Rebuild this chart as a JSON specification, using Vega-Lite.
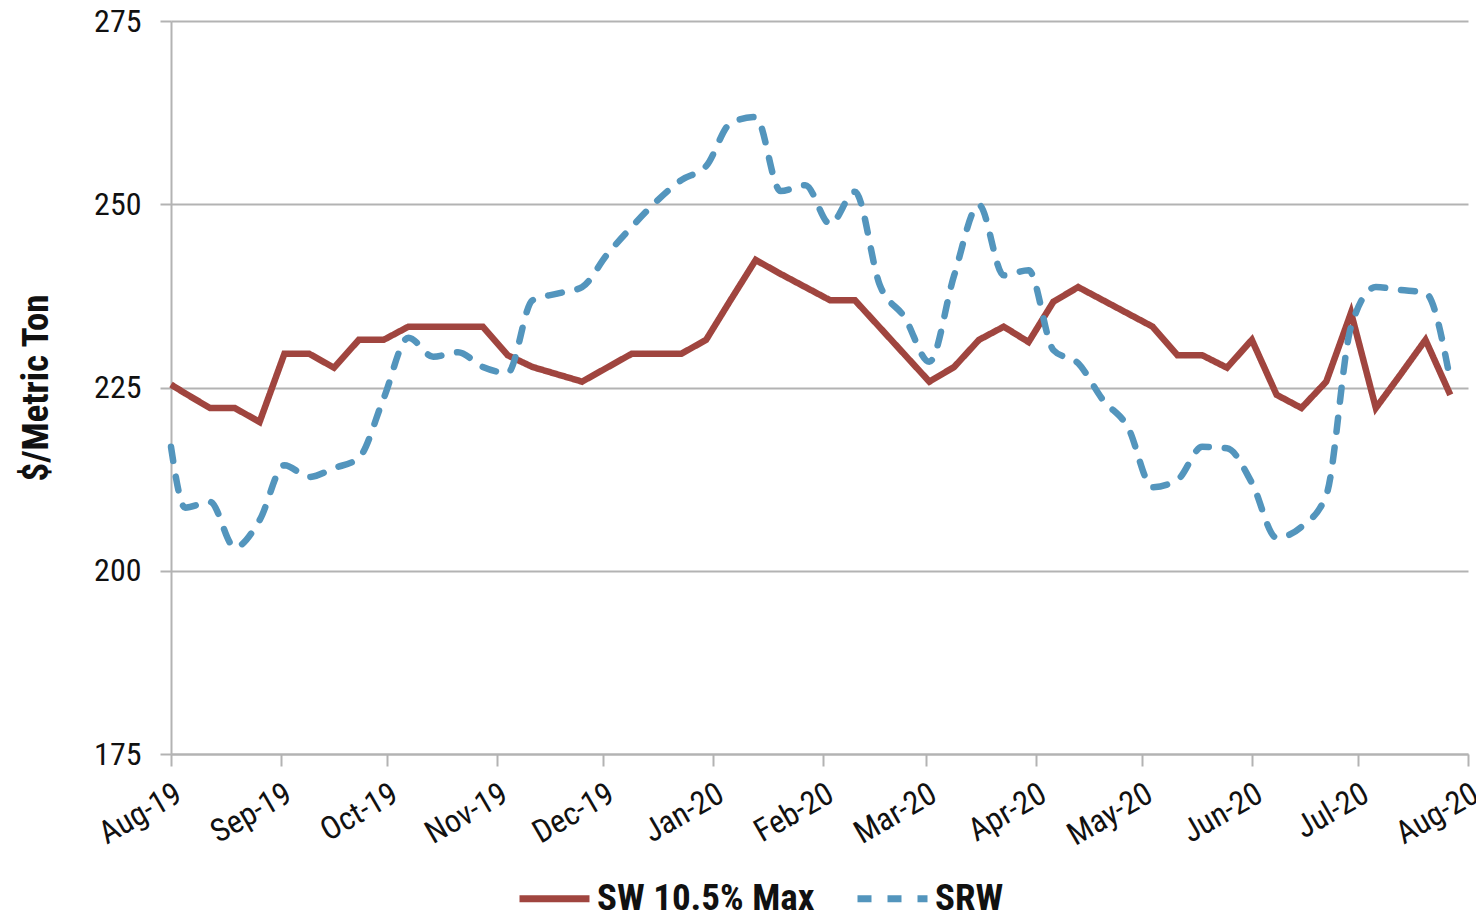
{
  "$schema": "https://vega.github.io/schema/vega-lite/v6.json",
  "width": 1297,
  "height": 733,
  "autosize": "none",
  "padding": {"left": 171, "top": 21, "right": 8, "bottom": 161},
  "background": "white",
  "config": {
    "view": {"stroke": null},
    "font": "Roboto Condensed, Liberation Sans Narrow, Roboto"
  },
  "datasets": {
    "prices": [
      {"date": "2019-08-01", "SW": 225.4, "SRW": 216.9},
      {"date": "2019-08-05", "SW": 224.2, "SRW": 208.6},
      {"date": "2019-08-12", "SW": 222.2, "SRW": 209.4},
      {"date": "2019-08-19", "SW": 222.2, "SRW": 203.2},
      {"date": "2019-08-26", "SW": 220.3, "SRW": 206.9},
      {"date": "2019-09-02", "SW": 229.6, "SRW": 214.4},
      {"date": "2019-09-09", "SW": 229.6, "SRW": 212.8},
      {"date": "2019-09-16", "SW": 227.7, "SRW": 214.0},
      {"date": "2019-09-23", "SW": 231.5, "SRW": 215.4},
      {"date": "2019-09-30", "SW": 231.5, "SRW": 223.5},
      {"date": "2019-10-07", "SW": 233.3, "SRW": 231.8},
      {"date": "2019-10-14", "SW": 233.3, "SRW": 229.2},
      {"date": "2019-10-21", "SW": 233.3, "SRW": 229.8},
      {"date": "2019-10-28", "SW": 233.3, "SRW": 227.8},
      {"date": "2019-11-04", "SW": 229.4, "SRW": 227.0},
      {"date": "2019-11-11", "SW": 227.8, "SRW": 236.9},
      {"date": "2019-11-18", "SW": 226.8, "SRW": 237.8},
      {"date": "2019-11-25", "SW": 225.8, "SRW": 238.7},
      {"date": "2019-12-02", "SW": 227.7, "SRW": 243.1},
      {"date": "2019-12-09", "SW": 229.6, "SRW": 246.9},
      {"date": "2019-12-16", "SW": 229.6, "SRW": 250.4},
      {"date": "2019-12-23", "SW": 229.6, "SRW": 253.3},
      {"date": "2019-12-30", "SW": 231.5, "SRW": 255.2},
      {"date": "2020-01-06", "SW": 237.0, "SRW": 261.1},
      {"date": "2020-01-13", "SW": 242.4, "SRW": 261.9},
      {"date": "2020-01-20", "SW": 240.5, "SRW": 251.8},
      {"date": "2020-01-27", "SW": 238.7, "SRW": 252.6},
      {"date": "2020-02-03", "SW": 236.9, "SRW": 247.3},
      {"date": "2020-02-10", "SW": 236.9, "SRW": 251.7},
      {"date": "2020-02-17", "SW": 233.2, "SRW": 239.0},
      {"date": "2020-02-24", "SW": 229.5, "SRW": 234.6},
      {"date": "2020-03-02", "SW": 225.8, "SRW": 228.5},
      {"date": "2020-03-09", "SW": 227.8, "SRW": 240.3},
      {"date": "2020-03-16", "SW": 231.5, "SRW": 249.9},
      {"date": "2020-03-23", "SW": 233.3, "SRW": 240.3},
      {"date": "2020-03-30", "SW": 231.2, "SRW": 241.0},
      {"date": "2020-04-06", "SW": 236.7, "SRW": 230.1},
      {"date": "2020-04-13", "SW": 238.7, "SRW": 228.3},
      {"date": "2020-04-20", "SW": 236.9, "SRW": 223.3},
      {"date": "2020-04-27", "SW": 235.1, "SRW": 219.6},
      {"date": "2020-05-04", "SW": 233.3, "SRW": 211.4},
      {"date": "2020-05-11", "SW": 229.4, "SRW": 212.4},
      {"date": "2020-05-18", "SW": 229.4, "SRW": 216.9},
      {"date": "2020-05-25", "SW": 227.7, "SRW": 216.7},
      {"date": "2020-06-01", "SW": 231.5, "SRW": 212.0},
      {"date": "2020-06-08", "SW": 224.0, "SRW": 204.5},
      {"date": "2020-06-15", "SW": 222.2, "SRW": 206.0},
      {"date": "2020-06-22", "SW": 225.8, "SRW": 210.3},
      {"date": "2020-06-29", "SW": 235.2, "SRW": 233.3},
      {"date": "2020-07-06", "SW": 222.2, "SRW": 238.7},
      {"date": "2020-07-13", "SW": 226.8, "SRW": 238.3},
      {"date": "2020-07-20", "SW": 231.5, "SRW": 237.9},
      {"date": "2020-07-27", "SW": 224.0, "SRW": 226.0}
    ]
  },
  "data": {"name": "prices"},
  "transform": [
    {"fold": ["SW", "SRW"], "as": ["key", "price"]},
    {"calculate": "datum.key === 'SW' ? 'SW 10.5% Max' : 'SRW'", "as": "series"}
  ],
  "encoding": {
    "x": {
      "field": "date",
      "type": "temporal",
      "scale": {"domain": [{"year": 2019, "month": "aug", "date": 1}, {"year": 2020, "month": "aug", "date": 1}]},
      "axis": {
        "title": null,
        "format": "%b-%y",
        "tickCount": {"interval": "month", "step": 1},
        "grid": false,
        "domainColor": "#b3b3b3",
        "domainWidth": 2,
        "tickColor": "#b3b3b3",
        "tickWidth": 2,
        "tickSize": 12,
        "labelAngle": -30,
        "labelAlign": "right",
        "labelBaseline": "top",
        "labelFontSize": 32,
        "labelColor": "#111111",
        "labelPadding": 12,
        "labelOverlap": false,
        "labelFlush": false,
        "labelBound": false
      }
    },
    "y": {
      "field": "price",
      "type": "quantitative",
      "scale": {"domain": [175, 275], "nice": false, "zero": false},
      "axis": {
        "title": "$/Metric Ton",
        "titleFontSize": 37,
        "titleFontWeight": "bold",
        "titleColor": "#111111",
        "titlePadding": 38,
        "values": [175, 200, 225, 250, 275],
        "grid": true,
        "gridColor": "#b3b3b3",
        "gridWidth": 2,
        "domainColor": "#b3b3b3",
        "domainWidth": 2,
        "tickColor": "#b3b3b3",
        "tickWidth": 2,
        "tickSize": 11,
        "labelFontSize": 32,
        "labelColor": "#111111",
        "labelPadding": 19
      }
    },
    "color": {
      "field": "series",
      "type": "nominal",
      "scale": {"domain": ["SW 10.5% Max", "SRW"], "range": ["#a0453f", "#5395bd"]},
      "legend": {
        "title": null,
        "orient": "none",
        "direction": "horizontal",
        "legendX": 345,
        "legendY": 839,
        "symbolType": "stroke",
        "symbolSize": 4900,
        "symbolStrokeWidth": 7,
        "labelFontSize": 37,
        "labelFontWeight": "bold",
        "labelColor": "#111111",
        "labelOffset": 4,
        "labelLimit": 500,
        "columnPadding": 28
      }
    },
    "strokeDash": {
      "field": "series",
      "type": "nominal",
      "scale": {"domain": ["SW 10.5% Max", "SRW"], "range": [[1, 0], [14, 16]]},
      "legend": null
    }
  },
  "layer": [
    {
      "transform": [{"filter": "datum.key === 'SW'"}],
      "mark": {"type": "line", "strokeWidth": 6.5, "strokeCap": "butt", "strokeJoin": "miter"}
    },
    {
      "transform": [{"filter": "datum.key === 'SRW'"}],
      "mark": {"type": "line", "strokeWidth": 6.5, "strokeCap": "round", "interpolate": "monotone"}
    }
  ]
}
